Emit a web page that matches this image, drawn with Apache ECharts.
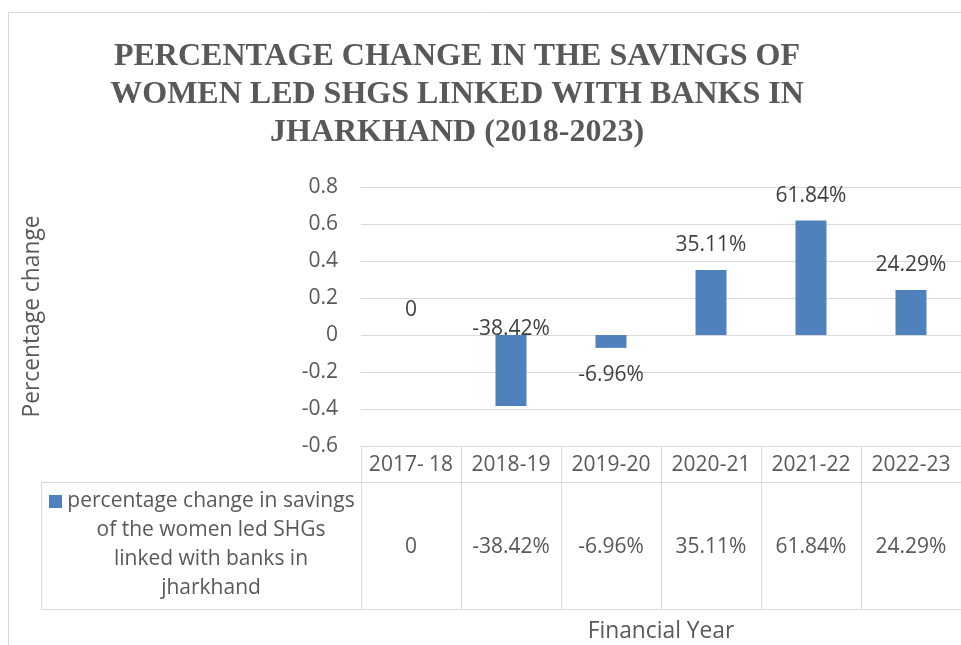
<!DOCTYPE html>
<html>
<head>
<meta charset="utf-8">
<script src="https://cdn.jsdelivr.net/npm/echarts@6/dist/echarts.min.js"></script>
<style>
html, body { margin: 0; padding: 0; background: #fff; }
#chart { width: 961px; height: 645px; }
</style>
</head>
<body>
<div id="chart"></div>
<script>
// data
var years = ['2017- 18', '2018-19', '2019-20', '2020-21', '2021-22', '2022-23'];
var changes = [0, -0.3842, -0.0696, 0.3511, 0.6184, 0.2429];
var yMin = -0.6, yMax = 0.8, yStep = 0.2;
var legendLines = ['percentage change in savings', 'of the women led SHGs', 'linked with banks in', 'jharkhand'];
var titleText = 'PERCENTAGE CHANGE IN THE SAVINGS OF\nWOMEN LED SHGS LINKED WITH BANKS IN\nJHARKHAND (2018-2023)';

var barColor = '#4f81bd';
var lineColor = '#d9d9d9';
var font = 'Open Sans';

function pct(v) {
    return v === 0 ? '0' : (v * 100).toFixed(2) + '%';
}

var dom = document.getElementById('chart');
var myChart = echarts.init(dom);

var txt = { fontFamily: font, fontSize: 21, color: '#595959' };
var nameTxt = { fontFamily: font, fontSize: 22.8, color: '#595959' };

option = {
    animation: false,
    title: {
        text: titleText,
        left: 452,
        top: 33,
        textAlign: 'center',
        textStyle: {
            fontFamily: 'Liberation Serif',
            fontWeight: 'bold',
            fontSize: 32,
            lineHeight: 38,
            color: '#595959'
        }
    },
    grid: {
        left: 361,
        top: 187,
        width: 607,
        height: 259
    },
    xAxis: [{
            // category row of the table; long ticks draw its column lines
            type: 'category',
            data: years,
            position: 'bottom',
            axisLine: { onZero: false, lineStyle: { color: lineColor } },
            axisTick: { show: true, interval: 0, length: 163, lineStyle: { color: lineColor } },
            axisLabel: Object.assign({ margin: 7, interval: 0, lineHeight: 24 }, txt)
        },
        {
            // value row of the table
            type: 'category',
            data: years,
            position: 'bottom',
            offset: 36,
            axisLine: { onZero: false, lineStyle: { color: lineColor } },
            axisTick: { show: false },
            axisLabel: Object.assign({
                margin: 53,
                interval: 0,
                lineHeight: 24,
                formatter: function (v, i) { return pct(changes[i]); }
            }, txt)
        },
        {
            type: 'category',
            data: years,
            position: 'bottom',
            offset: 163,
            axisLine: { onZero: false, lineStyle: { color: lineColor } },
            axisTick: { show: false },
            axisLabel: { show: false },
            name: 'Financial Year',
            nameLocation: 'middle',
            nameGap: 11,
            nameTextStyle: Object.assign({ verticalAlign: 'top' }, nameTxt)
        }
    ],
    yAxis: {
        type: 'value',
        min: yMin,
        max: yMax,
        interval: yStep,
        axisLine: { show: false },
        axisTick: { show: false },
        splitLine: { lineStyle: { color: lineColor } },
        axisLabel: Object.assign({ margin: 23 }, txt),
        name: 'Percentage change',
        nameLocation: 'middle',
        nameGap: 317,
        nameTextStyle: nameTxt
    },
    series: [{
        name: legendLines.join(' '),
        type: 'bar',
        barWidth: 31,
        itemStyle: { color: barColor },
        label: {
            show: true,
            position: 'top',
            distance: 13,
            fontFamily: font,
            fontSize: 21,
            lineHeight: 24,
            color: '#404040',
            formatter: function (p) { return pct(p.value); }
        },
        data: changes.map(function (v, i) {
            var item = { value: v };
            if (i === 1) item.label = { position: 'top', offset: [0, 19] };
            if (i === 2) item.label = { position: 'bottom', distance: 15 };
            return item;
        })
    }],
    graphic: [{
            // chart area border
            type: 'rect',
            shape: { x: 8.5, y: 12.5, width: 1000, height: 700 },
            style: { fill: null, stroke: lineColor, lineWidth: 1 },
            silent: true,
            z: -1
        },
        {
            // legend cell of the table
            type: 'rect',
            shape: { x: 41.5, y: 482.5, width: 320, height: 127 },
            style: { fill: null, stroke: lineColor, lineWidth: 1 },
            silent: true
        },
        {
            type: 'rect',
            shape: { x: 49, y: 495, width: 13, height: 13 },
            style: { fill: barColor },
            silent: true
        },
        {
            type: 'text',
            x: 211,
            y: 487,
            style: {
                text: legendLines.join('\n'),
                align: 'center',
                verticalAlign: 'top',
                fontFamily: font,
                fontSize: 21,
                lineHeight: 29,
                fill: '#595959'
            },
            silent: true
        }
    ]
};

if (option && typeof option === 'object') {
    myChart.setOption(option, true);
}
</script>
</body>
</html>
